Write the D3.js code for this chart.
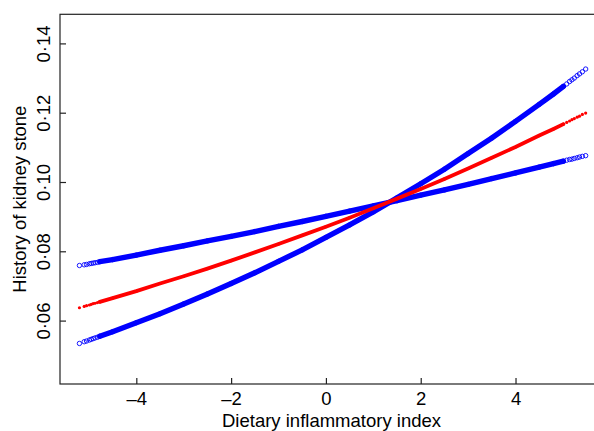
<!DOCTYPE html>
<html><head><meta charset="utf-8">
<script src="https://cdn.jsdelivr.net/npm/d3@7"></script>
<style>
html,body{margin:0;padding:0;background:#fff;}
svg{display:block;font-family:"Liberation Sans",Arial,Helvetica,sans-serif;}
</style></head>
<body><svg id="c" width="594" height="431"></svg>
<script>
// Dietary inflammatory index values (points along the fitted curves)
const dii = [-5.20,-5.10,-5.05,-4.99,-4.95,-4.91,-4.87,-4.82,-4.77,
  -4.5,-4.0,-3.5,-3.0,-2.5,-2.0,-1.5,-1.0,-0.5,0,0.5,1.0,1.5,2.0,2.5,3.0,3.5,4.0,4.5,4.8,
  5.01,5.08,5.14,5.19,5.24,5.30,5.35,5.41,5.48];
// Predicted probability of kidney stone history (red)
const fitted = [0.0637,0.0641,0.0643,0.0645,0.0647,0.0649,0.0650,0.0652,0.0654,
  0.0665,0.0685,0.0707,0.0728,0.0750,0.0773,0.0797,0.0821,0.0846,0.0871,0.0897,0.0924,0.0952,0.0980,0.1009,0.1039,0.1070,0.1101,0.1134,0.1153,
  0.1167,0.1172,0.1176,0.1180,0.1183,0.1187,0.1190,0.1195,0.1199];
// Upper-left / lower-right confidence curve (blue)
const bandA = [0.0759,0.0761,0.0762,0.0764,0.0765,0.0766,0.0767,0.0768,0.0770,
  0.0776,0.0789,0.0803,0.0816,0.0830,0.0843,0.0857,0.0872,0.0886,0.0901,0.0916,0.0931,0.0946,0.0962,0.0977,0.0993,0.1010,0.1026,0.1043,0.1053,
  0.1060,0.1063,0.1065,0.1066,0.1068,0.1070,0.1072,0.1074,0.1076];
// Lower-left / upper-right confidence curve (blue)
const bandB = [0.0534,0.0539,0.0541,0.0544,0.0546,0.0548,0.0550,0.0552,0.0555,
  0.0568,0.0594,0.0620,0.0648,0.0677,0.0707,0.0738,0.0771,0.0804,0.0840,0.0876,0.0914,0.0954,0.0995,0.1037,0.1082,0.1127,0.1175,0.1224,0.1254,
  0.1276,0.1283,0.1290,0.1295,0.1300,0.1307,0.1312,0.1318,0.1326];
const xTicks = [-4,-2,0,2,4];
const xTickLabels = ["\u20134","\u20132","0","2","4"];
const yTicks = [0.06,0.08,0.10,0.12,0.14];
const yTickLabels = ["0\u00b706","0\u00b708","0\u00b710","0\u00b712","0\u00b714"];
const xTitle = "Dietary inflammatory index";
const yTitle = "History of kidney stone";

const FS = 18.5;
const svg = d3.select("#c");
svg.append("rect").attr("width",594).attr("height",431).attr("fill","#fff");
const L=60, R=607, T=14.3, B=384;
const x = d3.scaleLinear().domain([-5.61,5.93]).range([L,R]);
const y = d3.scaleLinear().domain([0.0417,0.1484]).range([B,T]);

const pts = (vals)=>dii.map((d,i)=>({x:d,y:vals[i]}));
const dense = (p)=>p.filter(d=>d.x>=-4.77 && d.x<=5.01);
const line = d3.line().x(d=>x(d.x)).y(d=>y(d.y));

const g = svg.append("g");
[bandA,bandB].forEach(v=>{
  const p = pts(v);
  g.append("path").attr("d",line(dense(p))).attr("fill","none")
    .attr("stroke","#0000ff").attr("stroke-width",5.4).attr("stroke-linecap","round");
  g.selectAll(null).data(p).enter().append("circle")
    .attr("cx",d=>x(d.x)).attr("cy",d=>y(d.y)).attr("r",2.2)
    .attr("fill","none").attr("stroke","#0000ff").attr("stroke-width",0.9);
});
{
  const p = pts(fitted);
  g.append("path").attr("d",line(dense(p))).attr("fill","none")
    .attr("stroke","#ff0000").attr("stroke-width",3.8).attr("stroke-linecap","round");
  g.selectAll(null).data(p).enter().append("circle")
    .attr("cx",d=>x(d.x)).attr("cy",d=>y(d.y)).attr("r",1.6)
    .attr("fill","#ff0000");
}

// frame
svg.append("rect").attr("x",L).attr("y",T).attr("width",R-L).attr("height",B-T)
  .attr("fill","none").attr("stroke","#222").attr("stroke-width",1.2);

// axes
const xa = svg.append("g").attr("transform",`translate(0,${B})`)
  .call(d3.axisBottom(x).tickValues(xTicks).tickSize(-6).tickPadding(8)
    .tickFormat((d,i)=>xTickLabels[i]));
xa.select(".domain").remove();
xa.selectAll("line").attr("stroke","#222").attr("stroke-width",1.2);
xa.selectAll("text").attr("font-size",FS).attr("fill","#000")
  .attr("font-family","'Liberation Sans',Arial,sans-serif");

const ya = svg.append("g").attr("transform",`translate(${L},0)`)
  .call(d3.axisLeft(y).tickValues(yTicks).tickSize(-6).tickFormat((d,i)=>yTickLabels[i]));
ya.select(".domain").remove();
ya.selectAll("line").attr("stroke","#222").attr("stroke-width",1.2);
ya.selectAll("text").attr("font-size",FS).attr("fill","#000")
  .attr("font-family","'Liberation Sans',Arial,sans-serif")
  .attr("x",null).attr("dy",null).attr("text-anchor","middle")
  .attr("transform","translate(-10,0) rotate(-90)");

svg.append("text").attr("x",(L+R)/2-2).attr("y",427).attr("text-anchor","middle")
  .attr("font-size",FS).attr("fill","#000").text(xTitle);
svg.append("text").attr("transform",`translate(25.5,${(T+B)/2}) rotate(-90)`)
  .attr("text-anchor","middle").attr("font-size",FS).attr("fill","#000").text(yTitle);
</script></body></html>
